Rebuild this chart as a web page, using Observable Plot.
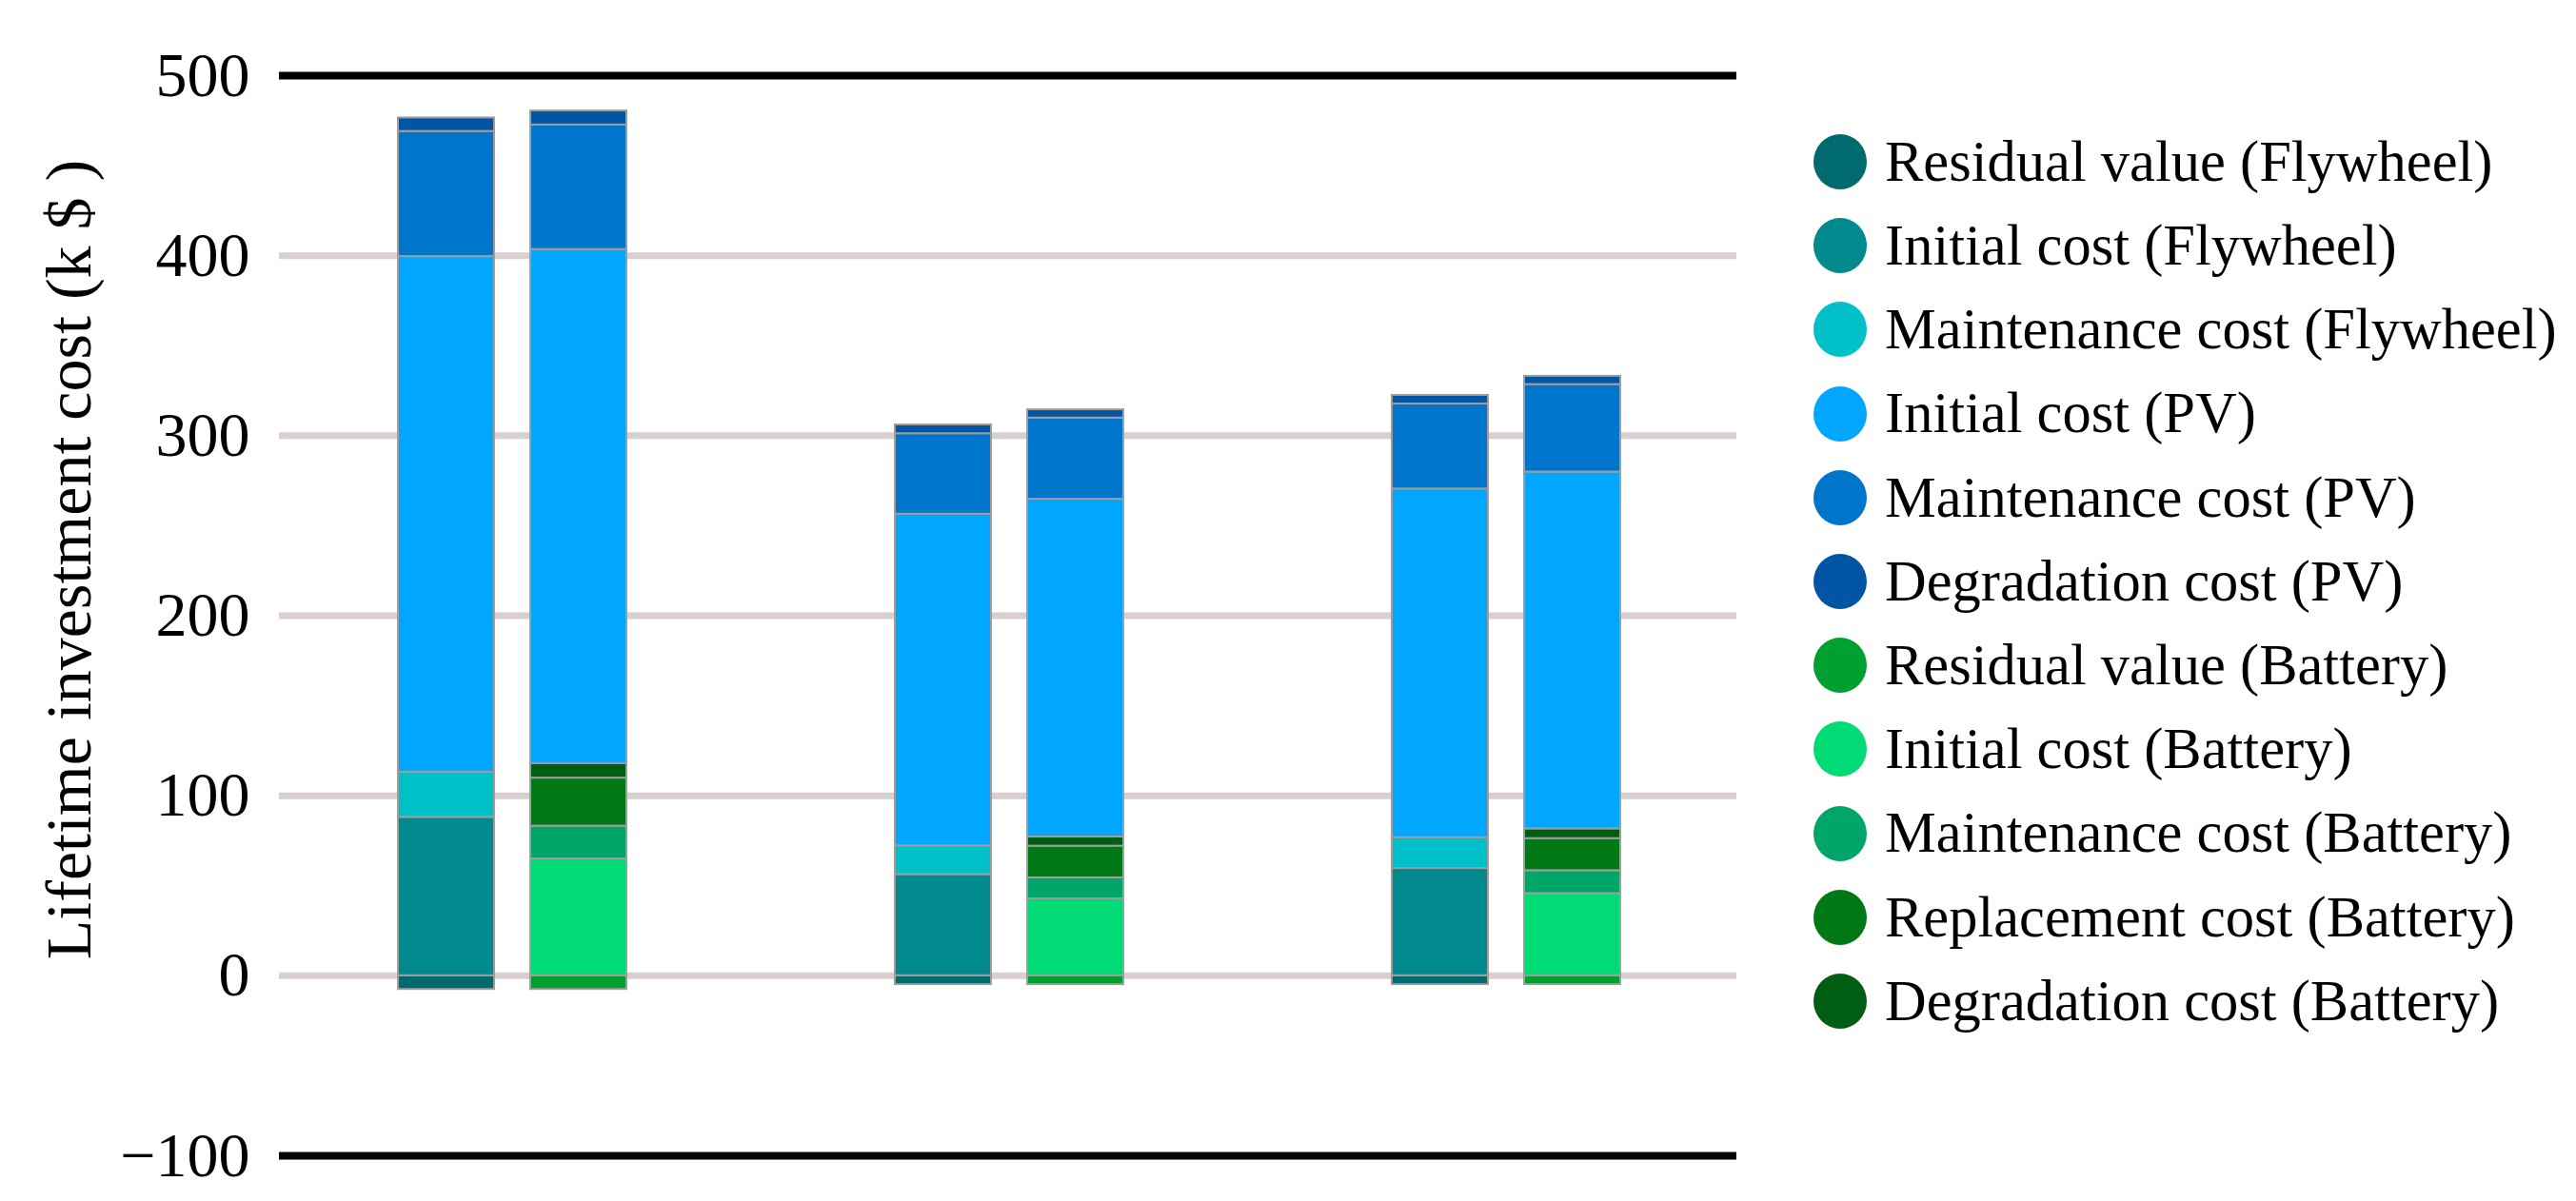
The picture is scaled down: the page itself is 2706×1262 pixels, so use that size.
<!DOCTYPE html>
<html>
<head>
<meta charset="utf-8">
<script src="https://cdn.jsdelivr.net/npm/d3@7"></script>
<script src="https://cdn.jsdelivr.net/npm/@observablehq/plot@0.6"></script>
<style>
  html, body { margin: 0; padding: 0; background: #fff; overflow: hidden; }
  #wrap { position: relative; width: 2706px; height: 1262px; background: #fff; font-family: "Liberation Serif", "Times New Roman", serif; }
  #chart { position: absolute; left: 0; top: 0; }
  #ylabel { position: absolute; left: 72px; top: 588px; transform: translate(-50%, -50%) rotate(-90deg); white-space: nowrap; font-size: 68px; line-height: 1; color: #000; }
  #legend { position: absolute; left: 1905px; top: 126px; }
  .row { display: flex; align-items: center; height: 88.2px; }
  .sw { width: 56px; height: 58px; border-radius: 50%; margin-right: 19px; flex: none; }
  .lt { font-size: 60.5px; line-height: 1; color: #000; white-space: nowrap; }
</style>
</head>
<body>
<div id="wrap">
  <div id="chart"></div>
  <div id="ylabel"></div>
  <div id="legend"></div>
</div>
<script>
// ---- data ----
const groups = ["Case 1", "Case 2", "Case 3"];

const components = [
  "Residual value (Flywheel)",
  "Initial cost (Flywheel)",
  "Maintenance cost (Flywheel)",
  "Initial cost (PV)",
  "Maintenance cost (PV)",
  "Degradation cost (PV)",
  "Residual value (Battery)",
  "Initial cost (Battery)",
  "Maintenance cost (Battery)",
  "Replacement cost (Battery)",
  "Degradation cost (Battery)"
];

const colors = [
  "#006b6e", "#008a8e", "#00c1c8",
  "#00a6ff", "#0075cc", "#0055a5",
  "#00a030", "#00db76", "#00a56a", "#007816", "#005e14"
];

// Flywheel-based system: stacking order bottom -> top
const flywheelParts = [
  "Residual value (Flywheel)",
  "Initial cost (Flywheel)",
  "Maintenance cost (Flywheel)",
  "Initial cost (PV)",
  "Maintenance cost (PV)",
  "Degradation cost (PV)"
];
const flywheelValues = [
  [-7.6, 88.0, 25.0, 286.5, 69.5, 7.5],
  [-4.9, 56.2, 16.0, 184.2, 44.7, 4.9],
  [-4.9, 59.6, 17.1, 193.7, 47.2, 4.8]
];

// Battery-based system: stacking order bottom -> top
const batteryParts = [
  "Residual value (Battery)",
  "Initial cost (Battery)",
  "Maintenance cost (Battery)",
  "Replacement cost (Battery)",
  "Degradation cost (Battery)",
  "Initial cost (PV)",
  "Maintenance cost (PV)",
  "Degradation cost (PV)"
];
const batteryValues = [
  [-7.6, 64.9, 18.2, 26.7, 8.1, 285.5, 69.2, 7.8],
  [-4.9, 42.7, 11.7, 17.6, 5.1, 187.6, 45.1, 4.6],
  [-4.9, 45.6, 12.8, 17.8, 5.4, 198.2, 48.6, 4.6]
];

const yTicks = [-100, 0, 100, 200, 300, 400, 500];
const gridTicks = [0, 100, 200, 300, 400];
const edgeTicks = [-100, 500];
const yLabel = "Lifetime investment cost (k $ )";

// ---- build tables ----
const flyRows = [];
groups.forEach((g, i) => flywheelParts.forEach((c, j) => flyRows.push({group: g, component: c, value: flywheelValues[i][j]})));
const batRows = [];
groups.forEach((g, i) => batteryParts.forEach((c, j) => batRows.push({group: g, component: c, value: batteryValues[i][j]})));

const barStyle = {stroke: "#9e9e9e", strokeWidth: 2};

const chart = Plot.plot({
  width: 1870,
  height: 1262,
  marginLeft: 293,
  marginRight: 46,
  marginTop: 79,
  marginBottom: 48,
  style: {fontFamily: "'Liberation Serif', 'Times New Roman', serif", fontSize: "66px", background: "white", color: "black"},
  x: {domain: groups, range: [276.5, 1842.5], padding: 0, axis: null},
  y: {domain: [-100, 500]},
  color: {domain: components, range: colors},
  marks: [
    Plot.ruleY(gridTicks, {stroke: "#dacfcf", strokeWidth: 7}),
    Plot.ruleY(edgeTicks, {stroke: "#000", strokeWidth: 8}),
    Plot.axisY({ticks: yTicks, tickSize: 0, tickPadding: 31, fontSize: 66, label: null, tickFormat: d3.format("")}),
    Plot.barY(flyRows, Plot.stackY({x: "group", y: "value", fill: "component", insetLeft: 141, insetRight: 280, ...barStyle})),
    Plot.barY(batRows, Plot.stackY({x: "group", y: "value", fill: "component", insetLeft: 280, insetRight: 141, ...barStyle}))
  ]
});
document.getElementById("chart").appendChild(chart);

document.getElementById("ylabel").textContent = yLabel;

const legend = document.getElementById("legend");
components.forEach((c, i) => {
  const row = document.createElement("div");
  row.className = "row";
  const sw = document.createElement("div");
  sw.className = "sw";
  sw.style.background = colors[i];
  const t = document.createElement("div");
  t.className = "lt";
  t.textContent = c;
  row.appendChild(sw);
  row.appendChild(t);
  legend.appendChild(row);
});
</script>
</body>
</html>
